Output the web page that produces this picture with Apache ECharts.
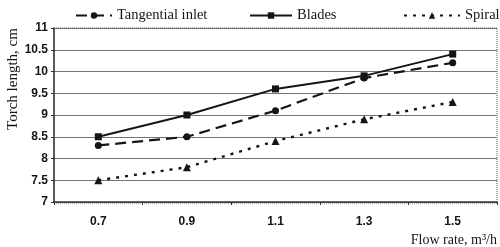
<!DOCTYPE html>
<html>
<head>
<meta charset="utf-8">
<script src="https://cdn.jsdelivr.net/npm/echarts@6/dist/echarts.min.js"></script>
<style>
  html, body { margin: 0; padding: 0; background: #fff; }
  #chart { width: 500px; height: 247px; }
</style>
</head>
<body>
<div id="chart"></div>
<script>
// data
var flowRates = ['0.7', '0.9', '1.1', '1.3', '1.5'];
var tangentialInlet = [8.3, 8.5, 9.1, 9.85, 10.2];
var blades = [8.5, 9.0, 9.6, 9.9, 10.4];
var spiral = [7.5, 7.8, 8.4, 8.9, 9.3];

var chart = echarts.init(document.getElementById('chart'));
var ink = '#151515';
var legendText = { fontFamily: 'Liberation Serif', fontSize: 14.5, color: ink };

var option = {
  animation: false,
  backgroundColor: '#fff',
  grid: { left: 54, right: 3, top: 28, bottom: 44 },
  legend: [
    { data: ['Tangential inlet'], left: 70, top: 3, itemWidth: 36, itemHeight: 8, textStyle: legendText },
    { data: ['Blades'], left: 244, top: 3, itemWidth: 42, itemHeight: 8, textStyle: legendText },
    { data: ['Spiral'], left: 398, top: 3, itemWidth: 56, itemHeight: 8, textStyle: legendText }
  ],
  xAxis: {
    type: 'category',
    data: flowRates,
    boundaryGap: true,
    name: 'Flow rate, m\u00b3/h',
    nameLocation: 'end',
    nameGap: 0,
    nameTextStyle: {
      fontFamily: 'Liberation Serif', fontSize: 14, color: ink,
      align: 'right', verticalAlign: 'top', padding: [31, 0, 0, 0]
    },
    axisLine: { lineStyle: { color: '#333', width: 1.5 } },
    axisTick: { show: true, length: 3, lineStyle: { color: '#333' } },
    axisLabel: { fontFamily: 'Liberation Sans', fontWeight: 'bold', fontSize: 12, color: ink, margin: 14 },
    splitLine: { show: false }
  },
  yAxis: {
    type: 'value',
    min: 7,
    max: 11,
    interval: 0.5,
    axisLine: { show: true, lineStyle: { color: '#333', width: 1.5 } },
    axisTick: { show: true, length: 3, lineStyle: { color: '#333' } },
    axisLabel: { fontFamily: 'Liberation Sans', fontWeight: 'bold', fontSize: 12, color: ink, margin: 6 },
    splitLine: { show: true, lineStyle: { color: '#6f7388', width: 1.2 } }
  },
  series: [
    {
      name: 'Tangential inlet',
      type: 'line',
      data: tangentialInlet,
      symbol: 'circle',
      symbolSize: 7,
      itemStyle: { color: ink },
      lineStyle: { color: ink, width: 2.2, type: [11, 6] }
    },
    {
      name: 'Blades',
      type: 'line',
      data: blades,
      symbol: 'rect',
      symbolSize: 7,
      itemStyle: { color: ink },
      lineStyle: { color: ink, width: 2 }
    },
    {
      name: 'Spiral',
      type: 'line',
      data: spiral,
      symbol: 'triangle',
      symbolSize: 8,
      itemStyle: { color: ink },
      lineStyle: { color: ink, width: 2.4, type: [3, 6] }
    }
  ],
  graphic: [
    {
      type: 'rect',
      shape: { x: 54, y: 28, width: 443, height: 175 },
      style: { fill: 'none', stroke: '#555', lineWidth: 1, lineDash: [1, 1] },
      silent: true
    },
    {
      // y axis title sits higher than the plot middle in the original
      type: 'text',
      x: 13,
      y: 79,
      rotation: Math.PI / 2,
      style: {
        text: 'Torch length, cm',
        font: '15px "Liberation Serif"',
        fill: ink,
        align: 'center',
        verticalAlign: 'middle'
      },
      silent: true
    }
  ]
};
chart.setOption(option);
</script>
</body>
</html>
